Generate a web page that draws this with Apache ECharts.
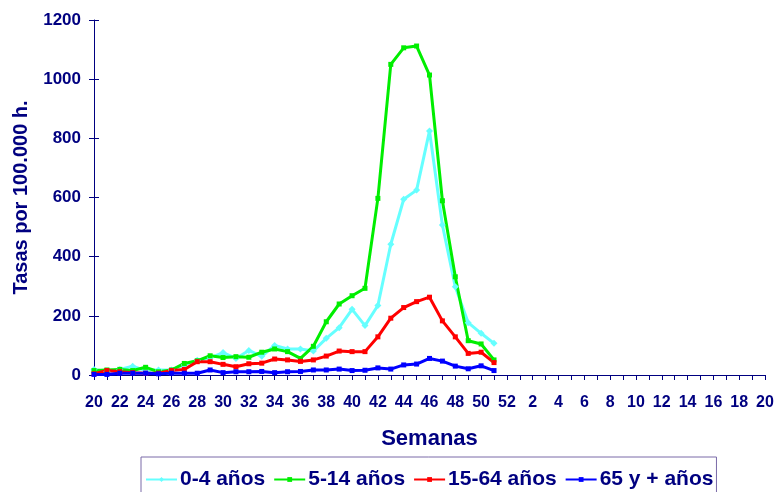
<!DOCTYPE html>
<html>
<head>
	<meta charset="UTF-8">
	<title>Tasas por semana</title>
	<script src="https://cdn.jsdelivr.net/npm/echarts@6/dist/echarts.min.js"></script>
	<style>
		html, body { margin: 0; padding: 0; background: #fff; }
	</style>
</head>
<body>
<div id="main" style="width: 774px;height:492px;"></div>
<script type="text/javascript">
	// semanas 20-52 y 1-20
	var semanas = ['20','21','22','23','24','25','26','27','28','29','30','31','32','33','34','35','36',
		'37','38','39','40','41','42','43','44','45','46','47','48','49','50','51','52',
		'1','2','3','4','5','6','7','8','9','10','11','12','13','14','15','16','17','18','19','20'];

	// tasas por grupo de edad (semanas 20 a 51)
	var edad0_4 = [19, 12, 19, 30, 15, 17, 17, 34, 50, 58, 76, 56, 83, 63, 100, 88, 88, 81, 124, 160, 222, 167,
		235, 442, 594, 625, 825, 507, 298, 177, 141, 107];
	var edad5_14 = [15, 17, 19, 15, 26, 11, 17, 39, 48, 65, 59, 62, 60, 77, 88, 79, 56, 97, 180, 240, 268, 293,
		597, 1050, 1106, 1112, 1014, 589, 332, 116, 105, 51];
	var edad15_64 = [4, 15, 11, 8, 6, 6, 15, 19, 45, 45, 36, 28, 38, 40, 54, 51, 46, 51, 64, 81, 79, 79,
		129, 192, 228, 248, 263, 183, 129, 73, 77, 42];
	var edad65 = [2, 2, 6, 6, 6, 4, 6, 6, 6, 17, 8, 11, 11, 12, 8, 11, 12, 17, 17, 20, 15, 16,
		24, 20, 34, 37, 56, 47, 30, 21, 31, 15];

	var azul = '#000080';
	var fuente = '"Liberation Sans", Arial, sans-serif';

	function serie(nombre, datos, color, simbolo) {
		return {
			name: nombre,
			type: 'line',
			data: datos,
			symbol: simbolo,
			symbolSize: simbolo === 'diamond' ? 7 : 5,
			showSymbol: true,
			itemStyle: { color: color },
			lineStyle: { color: color, width: 3 },
			animation: false
		};
	}

	var myChart = echarts.init(document.getElementById('main'));
	var option = {
		backgroundColor: '#fff',
		textStyle: { fontFamily: fuente },
		grid: {
			left: 94,
			right: 9,
			top: 20,
			bottom: 117,
			containLabel: false,
			outerBoundsMode: 'none'
		},
		legend: {
			top: 457,
			left: 141,
			itemWidth: 31,
			itemHeight: 6,
			itemGap: 8,
			padding: [12, 3, 8, 4],
			borderColor: '#7a6aa8',
			borderWidth: 1,
			textStyle: { color: azul, fontSize: 21, fontWeight: 'bold', fontFamily: fuente, padding: [0, 0, 0, -2] },
			data: ['0-4 años', '5-14 años', '15-64 años', '65 y + años']
		},
		xAxis: {
			type: 'category',
			data: semanas,
			boundaryGap: false,
			name: 'Semanas',
			nameLocation: 'middle',
			nameGap: 53,
			nameTextStyle: { color: azul, fontSize: 22, fontWeight: 'bold', fontFamily: fuente },
			axisLine: { lineStyle: { color: azul, width: 1 } },
			axisTick: { interval: 0, length: 5, lineStyle: { color: azul } },
			axisLabel: { interval: 1, color: azul, fontSize: 16, fontWeight: 'bold', margin: 20, fontFamily: fuente },
			splitLine: { show: false }
		},
		yAxis: [
			{
				type: 'value',
				min: 0,
				max: 1200,
				interval: 200,
				name: 'Tasas por 100.000 h.',
				nameLocation: 'middle',
				nameGap: 63,
				nameTextStyle: { color: azul, fontSize: 20, fontWeight: 'bold', fontFamily: fuente },
				axisLine: { show: true, lineStyle: { color: azul, width: 1 } },
				axisTick: { show: true, length: 5, lineStyle: { color: azul } },
				axisLabel: {
					color: azul, fontSize: 17, fontWeight: 'bold', margin: 13, fontFamily: fuente,
					formatter: function (v) { return String(v); }
				},
				splitLine: { show: false }
			},
			{
				// marcas hacia dentro, sin etiquetas
				type: 'value',
				position: 'left',
				min: 0,
				max: 1200,
				interval: 200,
				axisLine: { show: false },
				axisTick: { show: true, inside: true, length: 5, lineStyle: { color: azul } },
				axisLabel: { show: false },
				splitLine: { show: false }
			}
		],
		series: [
			serie('0-4 años', edad0_4, '#66ffff', 'diamond'),
			serie('5-14 años', edad5_14, '#00ee00', 'rect'),
			serie('15-64 años', edad15_64, '#ff0000', 'rect'),
			serie('65 y + años', edad65, '#0000ff', 'rect')
		]
	};
	myChart.setOption(option);
</script>
</body>
</html>
